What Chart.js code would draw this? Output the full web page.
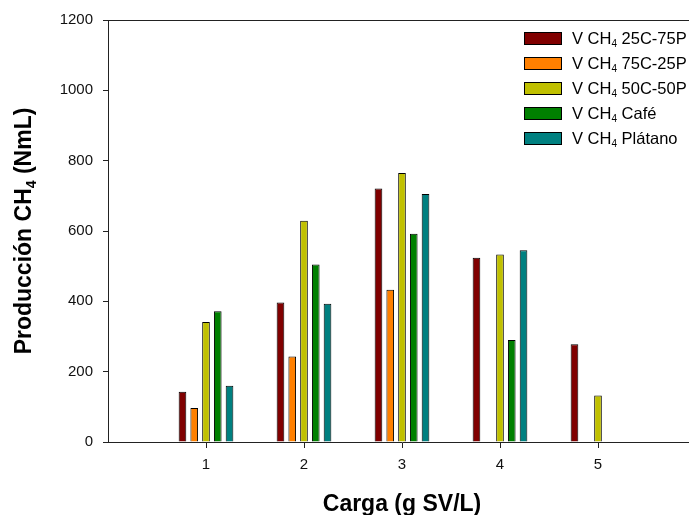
<!DOCTYPE html>
<html>
<head>
<meta charset="utf-8">
<script src="https://cdn.jsdelivr.net/npm/chart.js@4"></script>
<style>
  html, body { margin: 0; padding: 0; background: #fff; overflow: hidden; }
  canvas { display: block; }
</style>
</head>
<body>
<canvas id="ch4Chart" width="696" height="515"></canvas>
<script>
const cargas = [1, 2, 3, 4, 5];
const yTicks = [0, 200, 400, 600, 800, 1000, 1200];

const series = ['25C-75P', '75C-25P', '50C-50P', 'Café', 'Plátano'];
const v25C75P = [143, 397, 721, 524, 278];
const v75C25P = [97, 243, 433, null, null];
const v50C50P = [341, 629, 765, 533, 132];
const vCafe = [372, 505, 592, 290, null];
const vPlatano = [160, 393, 705, 545, null];
const colores = ['#800000', '#ff8000', '#c0c000', '#008000', '#008080'];

const valores = [v25C75P, v75C25P, v50C50P, vCafe, vPlatano];
const FONT = 'Arial, "Liberation Sans", sans-serif';

// text with a subscript piece: parts = [before, sub, after]
function subText(ctx, parts, size, weight) {
  const big = `${weight} ${size}px ${FONT}`;
  const small = `${weight} ${Math.round(size * 0.62)}px ${FONT}`;
  ctx.font = big;
  const w0 = ctx.measureText(parts[0]).width;
  const w2 = ctx.measureText(parts[2]).width;
  ctx.font = small;
  const w1 = ctx.measureText(parts[1]).width;
  return {
    width: w0 + w1 + w2,
    draw(x, y) {
      ctx.textAlign = 'left';
      ctx.textBaseline = 'alphabetic';
      ctx.font = big;
      ctx.fillText(parts[0], x, y);
      ctx.font = small;
      ctx.fillText(parts[1], x + w0, y + size * 0.2);
      ctx.font = big;
      ctx.fillText(parts[2], x + w0 + w1, y);
    },
  };
}

const extras = {
  id: 'extras',
  afterDraw(chart) {
    const { ctx, chartArea } = chart;
    ctx.save();

    // top frame line
    ctx.strokeStyle = '#222';
    ctx.lineWidth = 1;
    ctx.beginPath();
    ctx.moveTo(chartArea.left, chartArea.top + 0.5);
    ctx.lineTo(chartArea.right, chartArea.top + 0.5);
    ctx.stroke();

    ctx.fillStyle = '#000';

    // axis titles
    const xt = subText(ctx, ['Carga (g SV/L)', '', ''], 23, 'bold');
    xt.draw((chartArea.left + chartArea.right) / 2 - xt.width / 2, 511);

    const yt = subText(ctx, ['Producción CH', '4', ' (NmL)'], 23, 'bold');
    ctx.save();
    ctx.translate(31, (chartArea.top + chartArea.bottom) / 2);
    ctx.rotate(-Math.PI / 2);
    yt.draw(-yt.width / 2, 0);
    ctx.restore();

    // legend
    series.forEach((name, i) => {
      const cy = 38 + i * 25;
      ctx.fillStyle = colores[i];
      ctx.fillRect(524.5, cy - 5.5, 37, 12);
      ctx.strokeStyle = '#000';
      ctx.strokeRect(524.5, cy - 5.5, 37, 12);
      ctx.fillStyle = '#000';
      subText(ctx, ['V CH', '4', ' ' + name], 16.5, 'normal').draw(572, cy + 6);
    });

    ctx.restore();
  },
};

new Chart(document.getElementById('ch4Chart'), {
  type: 'bar',
  data: {
    datasets: series.map((name, i) => ({
      label: 'V CH4 ' + name,
      data: cargas.map((c, j) => ({ x: c, y: valores[i][j] })),
      backgroundColor: colores[i],
      borderColor: '#000',
      borderWidth: 1,
      categoryPercentage: 0.6,
      barPercentage: 0.65,
    })),
  },
  options: {
    responsive: false,
    devicePixelRatio: 1,
    animation: false,
    layout: { padding: { top: 20, left: 0, right: 0, bottom: 0 } },
    plugins: { legend: { display: false }, tooltip: { enabled: false } },
    scales: {
      x: {
        type: 'linear',
        min: 0,
        max: 6,
        offset: false,
        afterBuildTicks: (scale) => { scale.ticks = cargas.map((v) => ({ value: v })); },
        afterFit: (scale) => { scale.height = 73; },
        border: { display: true, color: '#222', width: 1 },
        grid: { offset: false, drawOnChartArea: false, color: '#222', tickColor: '#222', tickWidth: 1, tickLength: 6 },
        ticks: { color: '#111', font: { family: FONT, size: 15 }, padding: 8, callback: (v) => String(v) },
      },
      y: {
        min: 0,
        max: 1200,
        afterBuildTicks: (scale) => { scale.ticks = yTicks.map((v) => ({ value: v })); },
        afterFit: (scale) => { scale.width = 108; },
        border: { display: true, color: '#222', width: 1 },
        grid: { drawOnChartArea: false, color: '#222', tickColor: '#222', tickWidth: 1, tickLength: 5 },
        ticks: { color: '#111', font: { family: FONT, size: 15 }, padding: 10, callback: (v) => String(v) },
      },
    },
  },
  plugins: [extras],
});
</script>
</body>
</html>
